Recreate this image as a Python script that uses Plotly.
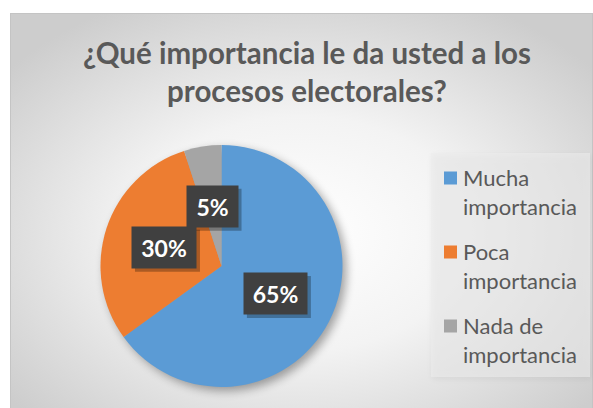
import math, base64
import plotly.graph_objects as go

# ---- data ----
categories = ["Mucha importancia", "Poca importancia", "Nada de importancia"]
legend_labels = ["Mucha<br>importancia", "Poca<br>importancia", "Nada de<br>importancia"]
values = [65, 30, 5]
pct_labels = ["65%", "30%", "5%"]
colors = ["#5B9BD5", "#ED7D31", "#A5A5A5"]
title_text = "¿Qué importancia le da usted a los<br>procesos electorales?"

W, H = 593, 408
CX, CY, R = 221.5, 266.0, 121.0   # pie center / radius in px
box_w = [63, 64, 51]
box_h = 41

FONT = "Lato"

# ---- background (radial gradient + pie shadow) ----
svg = f'''<svg xmlns="http://www.w3.org/2000/svg" width="{W}" height="{H}" viewBox="0 0 {W} {H}">
<defs>
<radialGradient id="g" cx="0.5" cy="0.55" r="0.65">
<stop offset="0" stop-color="#ffffff"/><stop offset="0.45" stop-color="#f3f3f3"/><stop offset="1" stop-color="#cdcdcd"/>
</radialGradient>
<filter id="b" x="-30%" y="-30%" width="160%" height="160%"><feGaussianBlur stdDeviation="5"/></filter>
<filter id="b2" x="-30%" y="-30%" width="160%" height="160%"><feGaussianBlur stdDeviation="3"/></filter>
</defs>
<rect x="0" y="0" width="{W}" height="{H}" fill="#ffffff"/>
<rect x="10.5" y="13.5" width="582" height="400" fill="url(#g)" stroke="#c4c4c4" stroke-width="1"/>
<rect x="432" y="155" width="159" height="224" fill="#000" opacity="0.05" filter="url(#b2)"/>
<rect x="431" y="153" width="159" height="224" fill="#ececec" opacity="0.6"/>
<circle cx="{CX+4}" cy="{CY+4}" r="{R}" fill="#000" opacity="0.35" filter="url(#b)"/>
</svg>'''
src = "data:image/svg+xml;base64," + base64.b64encode(svg.encode("utf-8")).decode()

fig = go.Figure()
fig.add_trace(go.Pie(
    labels=categories,
    values=values,
    sort=False,
    direction="clockwise",
    rotation=0,
    marker=dict(colors=colors, line=dict(width=0)),
    textinfo="none",
    hoverinfo="label+percent",
    showlegend=False,
    domain=dict(x=[(CX - R) / W, (CX + R) / W], y=[(H - CY - R) / H, (H - CY + R) / H]),
))

annotations = []
shapes = []
total = sum(values)
cum = 0
for v, lab, bw in zip(values, pct_labels, box_w):
    mid = (cum + v / 2) / total * 2 * math.pi
    cum += v
    px = CX + 0.5 * R * math.sin(mid)
    py = CY - 0.5 * R * math.cos(mid)
    shapes.append(dict(type="rect", xref="paper", yref="paper", layer="above",
                       x0=(px - bw / 2 + 3) / W, x1=(px + bw / 2 + 4) / W,
                       y0=(H - (py + box_h / 2 + 4)) / H, y1=(H - (py - box_h / 2 + 3)) / H,
                       fillcolor="rgba(0,0,0,0.28)", line=dict(width=0)))
    annotations.append(dict(
        x=px / W, y=(H - py) / H, xref="paper", yref="paper",
        text=lab, showarrow=False, xanchor="center", yanchor="middle",
        width=bw, height=box_h, borderpad=0,
        bgcolor="#404040", font=dict(family=FONT, size=23, color="white", weight="bold"),
    ))

# ---- legend (manual, to match Excel spacing) ----
LEG_X, LEG_Y0, LEG_STEP, SQ = 444, 178, 74, 13
for i, (lab, col) in enumerate(zip(legend_labels, colors)):
    my = LEG_Y0 + i * LEG_STEP
    shapes.append(dict(type="rect", xref="paper", yref="paper", layer="above",
                       x0=LEG_X / W, x1=(LEG_X + SQ) / W,
                       y0=(H - (my + SQ / 2)) / H, y1=(H - (my - SQ / 2)) / H,
                       fillcolor=col, line=dict(width=0)))
    annotations.append(dict(
        x=(LEG_X + 17) / W, y=(H - (my + 14)) / H, xref="paper", yref="paper",
        text=lab, showarrow=False, xanchor="left", yanchor="middle", align="left",
        font=dict(family=FONT, size=22, color="#595959"),
    ))

fig.update_layout(
    width=W, height=H,
    margin=dict(l=0, r=0, t=0, b=0),
    paper_bgcolor="rgba(0,0,0,0)",
    plot_bgcolor="rgba(0,0,0,0)",
    showlegend=False,
    title=dict(text=title_text, x=307 / W, xanchor="center", y=1 - 64 / H, yanchor="top",
               font=dict(family=FONT, size=29.5, color="#595959", weight="bold")),
    images=[dict(source=src, xref="paper", yref="paper", x=0, y=1, sizex=1, sizey=1,
                 sizing="stretch", layer="below", xanchor="left", yanchor="top")],
    annotations=annotations,
    shapes=shapes,
)

fig.write_html("out.html", config={"displayModeBar": False},
               post_script="document.body.style.margin='0';document.body.style.overflow='hidden';")
